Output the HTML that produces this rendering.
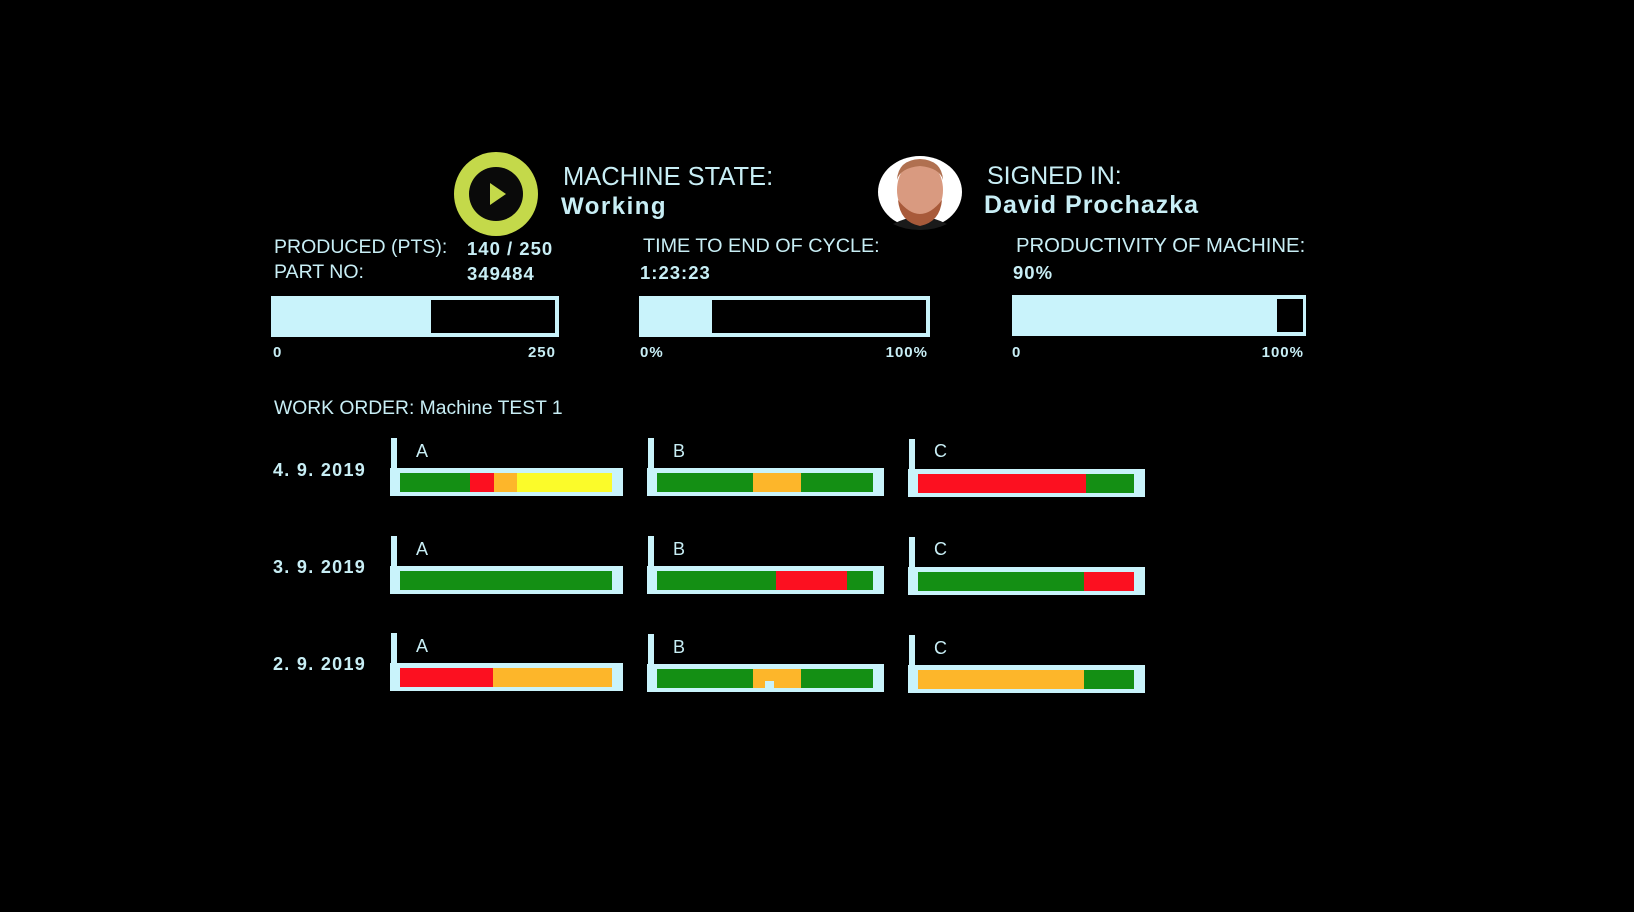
<!DOCTYPE html>
<html><head><meta charset="utf-8"><style>
body{margin:0;width:1634px;height:912px;background:#000;position:relative;overflow:hidden;font-family:"Liberation Sans",sans-serif;color:#c8eef5}
.t{position:absolute;white-space:nowrap;line-height:1}
.b{font-weight:bold}
.v{font-weight:bold;font-size:18.5px;letter-spacing:1px}
.ax{position:absolute;font-weight:bold;font-size:15px;letter-spacing:1px;line-height:1;white-space:nowrap}
.d{font-weight:bold;font-size:18px;letter-spacing:1.3px}
.bar{position:absolute;background:#c9f3fb}
.blk{position:absolute;background:#000}
.post{position:absolute;background:#c9f3fb;width:6px}
.box{position:absolute;background:#c9f3fb;height:28px}
.in{position:absolute;left:10px;right:11px;top:5px;height:19px;display:flex}
.in div{height:100%}
.g{background:#148f14}.r{background:#fc1020}.o{background:#fdb62a}.y{background:#fbfb2a}
</style></head><body>
<svg style="position:absolute;left:0;top:0" width="1634" height="912">
<circle cx="496" cy="194" r="42" fill="#c4d94a"/>
<circle cx="496" cy="194" r="27" fill="#0a0a0a"/>
<polygon points="490,183 490,205 506,194" fill="#c4d94a"/>
<ellipse cx="920" cy="192" rx="42" ry="36" fill="#fff"/>
<path d="M893 224 Q920 210 947 224 Q935 230 920 230 Q905 230 893 224Z" fill="#1a1a1a"/>
<ellipse cx="920" cy="190" rx="23" ry="30" fill="#d99a80"/>
<path d="M898 200 Q920 228 942 200 Q940 222 920 226 Q900 222 898 200Z" fill="#a85a3a"/>
<path d="M897 180 Q898 160 920 159 Q942 160 943 180 Q940 168 920 166 Q900 168 897 180Z" fill="#b07050"/>
</svg>
<div class="t" style="left:563px;top:165px;font-size:25.5px">MACHINE STATE:</div>
<div class="t b" style="left:561px;top:195px;font-size:24px;letter-spacing:1.5px">Working</div>
<div class="t" style="left:987px;top:164px;font-size:25px">SIGNED IN:</div>
<div class="t b" style="left:984px;top:193px;font-size:25px;letter-spacing:1px">David Prochazka</div>

<div class="t" style="left:274px;top:238px;font-size:19.5px">PRODUCED (PTS):</div>
<div class="t v" style="left:467px;top:240px">140 / 250</div>
<div class="t" style="left:274px;top:263px;font-size:19.5px">PART NO:</div>
<div class="t v" style="left:467px;top:265px">349484</div>
<div class="t" style="left:643px;top:237px;font-size:19.8px">TIME TO END OF CYCLE:</div>
<div class="t v" style="left:640px;top:264px">1:23:23</div>
<div class="t" style="left:1016px;top:236px;font-size:20.3px">PRODUCTIVITY OF MACHINE:</div>
<div class="t v" style="left:1013px;top:264px">90%</div>

<div class="bar" style="left:271px;top:296px;width:288px;height:41px"></div>
<div class="blk" style="left:431px;top:300px;width:124px;height:33px"></div>
<div class="bar" style="left:639px;top:296px;width:291px;height:41px"></div>
<div class="blk" style="left:712px;top:300px;width:214px;height:33px"></div>
<div class="bar" style="left:1012px;top:295px;width:294px;height:41px"></div>
<div class="blk" style="left:1277px;top:299px;width:26px;height:33px"></div>
<div class="ax" style="left:273px;top:345px">0</div>
<div class="ax" style="right:1078px;top:345px">250</div>
<div class="ax" style="left:640px;top:345px">0%</div>
<div class="ax" style="right:706px;top:345px">100%</div>
<div class="ax" style="left:1012px;top:345px">0</div>
<div class="ax" style="right:330px;top:345px">100%</div>

<div class="t" style="left:274px;top:399px;font-size:19.3px">WORK ORDER: Machine TEST 1</div>

<div class="t d" style="left:273px;top:461px">4. 9. 2019</div>
<div class="t d" style="left:273px;top:558px">3. 9. 2019</div>
<div class="t d" style="left:273px;top:655px">2. 9. 2019</div>

<!-- row 1 -->
<div class="post" style="left:391px;top:438px;height:31px"></div>
<div class="t" style="left:416px;top:442px;font-size:18px">A</div>
<div class="box" style="left:390px;top:468px;width:233px"><div class="in"><div class="g" style="width:33%"></div><div class="r" style="width:11.3%"></div><div class="o" style="width:10.8%"></div><div class="y" style="flex:1"></div></div></div>
<div class="post" style="left:648px;top:438px;height:31px"></div>
<div class="t" style="left:673px;top:442px;font-size:18px">B</div>
<div class="box" style="left:647px;top:468px;width:237px"><div class="in"><div class="g" style="width:44.6%"></div><div class="o" style="width:22%"></div><div class="g" style="flex:1"></div></div></div>
<div class="post" style="left:909px;top:439px;height:31px"></div>
<div class="t" style="left:934px;top:442px;font-size:18px">C</div>
<div class="box" style="left:908px;top:469px;width:237px"><div class="in"><div class="r" style="width:77.8%"></div><div class="g" style="flex:1"></div></div></div>

<!-- row 2 -->
<div class="post" style="left:391px;top:536px;height:31px"></div>
<div class="t" style="left:416px;top:540px;font-size:18px">A</div>
<div class="box" style="left:390px;top:566px;width:233px"><div class="in"><div class="g" style="flex:1"></div></div></div>
<div class="post" style="left:648px;top:536px;height:31px"></div>
<div class="t" style="left:673px;top:540px;font-size:18px">B</div>
<div class="box" style="left:647px;top:566px;width:237px"><div class="in"><div class="g" style="width:55%"></div><div class="r" style="width:33%"></div><div class="g" style="flex:1"></div></div></div>
<div class="post" style="left:909px;top:537px;height:31px"></div>
<div class="t" style="left:934px;top:540px;font-size:18px">C</div>
<div class="box" style="left:908px;top:567px;width:237px"><div class="in"><div class="g" style="width:77%"></div><div class="r" style="flex:1"></div></div></div>

<!-- row 3 -->
<div class="post" style="left:391px;top:633px;height:31px"></div>
<div class="t" style="left:416px;top:637px;font-size:18px">A</div>
<div class="box" style="left:390px;top:663px;width:233px"><div class="in"><div class="r" style="width:44%"></div><div class="o" style="flex:1"></div></div></div>
<div class="post" style="left:648px;top:634px;height:31px"></div>
<div class="t" style="left:673px;top:638px;font-size:18px">B</div>
<div class="box" style="left:647px;top:664px;width:237px"><div class="in"><div class="g" style="width:44.6%"></div><div class="o" style="width:22%;position:relative"><div style="position:absolute;left:12px;bottom:0;width:9px;height:7px;background:#c9f3fb"></div></div><div class="g" style="flex:1"></div></div></div>
<div class="post" style="left:909px;top:635px;height:31px"></div>
<div class="t" style="left:934px;top:639px;font-size:18px">C</div>
<div class="box" style="left:908px;top:665px;width:237px"><div class="in"><div class="o" style="width:77%"></div><div class="g" style="flex:1"></div></div></div>
</body></html>
